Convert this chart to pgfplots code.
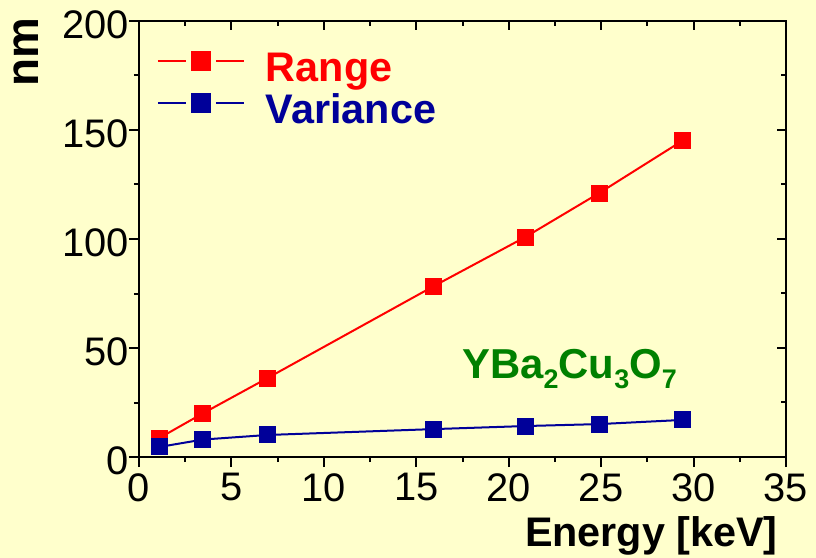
\documentclass[border=0pt]{standalone}
\usepackage{pgfplots}
\pgfplotsset{compat=1.18}
\usepackage{fontspec}
\setmainfont{Liberation Sans}
\definecolor{bgyellow}{HTML}{FFFFCC}
\definecolor{rangered}{HTML}{FF0000}
\definecolor{varblue}{HTML}{000099}
\definecolor{formgreen}{HTML}{008000}
\pgfplotsset{
 base/.style={
  scale only axis, width=647bp, height=436bp,
  xmin=0,xmax=35,ymin=0,ymax=200,
  xtick={0,5,...,35}, ytick={0,50,...,200},
  minor x tick num=1, minor y tick num=1,
  axis line style={line width=2.5bp},
  every tick/.style={line width=2bp, black},
  minor tick length=5bp,
  at={(0,0)}, anchor=south west,
 }
}
\begin{document}
\begin{tikzpicture}
\fill[bgyellow] (-139bp,-101bp) rectangle (677bp,457bp);
\path[use as bounding box] (-139bp,-101bp) rectangle (677bp,457bp);
\begin{axis}[base, xtick pos=left, ytick pos=left, tick align=outside,
 major tick length=10bp,
 /pgf/number format/assume math mode=true,
 tick label style={font=\fontsize{40}{44}\selectfont, inner sep=0pt},
 yticklabel style={anchor=east, yshift=-4bp},
 xticklabel style={anchor=north, yshift=-6bp},
 yticklabels={\raisebox{-7bp}{0},50,100,150,200},
 xlabel={Energy [keV]},
 xlabel style={at={(axis description cs:0.9876,-0.2064)}, anchor=base east, font=\fontsize{41.5}{44}\selectfont\bfseries, inner sep=0pt},
 ylabel={nm},
 ylabel style={at={(axis description cs:-0.1561,0.9289)}, anchor=base, font=\fontsize{46}{50}\selectfont\bfseries, inner sep=0pt},
 legend style={at={(axis description cs:0.0278,0.9564)}, anchor=north west, draw=none, fill=none, inner sep=0pt, outer sep=0pt,
   font=\fontsize{41.5}{44}\selectfont\bfseries, row sep=1.5bp, column sep=21bp,
   nodes={inner sep=0pt, text height=41bp, text depth=0bp}},
 legend cell align=left,
 legend image code/.code={
   \draw[#1, mark=none] (0bp,0bp) -- (28bp,0bp);
   \draw[#1, mark=none] (58bp,0bp) -- (86bp,0bp);
   \draw[#1, mark size=9bp] plot coordinates {(43bp,0bp)};
 },
]
\addplot[color=rangered, line width=2bp, mark=square*, mark size=7.5bp, mark options={solid}]
 coordinates {(1.1,8.7)(3.45,20)(6.95,36.2)(15.95,78.4)(20.9,100.9)(24.9,121.1)(29.4,145.1)};
\addlegendentry[text=rangered]{Range}
\addplot[color=varblue, line width=2bp, mark=square*, mark size=7.5bp, mark options={solid}]
 coordinates {(1.1,4.6)(3.45,8.0)(6.95,10.1)(15.95,12.8)(20.9,14.2)(24.9,15.1)(29.4,17.0)};
\addlegendentry[text=varblue]{Variance}
\node[anchor=base west, text=formgreen, inner sep=0pt, font=\fontsize{42}{48}\selectfont\bfseries] at (axis cs:17.47,36.2)
 {YBa\raisebox{-10bp}{\fontsize{27}{30}\selectfont 2}Cu\raisebox{-10bp}{\fontsize{27}{30}\selectfont 3}O\raisebox{-10bp}{\fontsize{27}{30}\selectfont 7}};
\end{axis}
\begin{axis}[base, xtick pos=right, ytick pos=right, tick align=inside,
 major tick length=9bp, xticklabels={}, yticklabels={}]
\end{axis}
\end{tikzpicture}
\end{document}
